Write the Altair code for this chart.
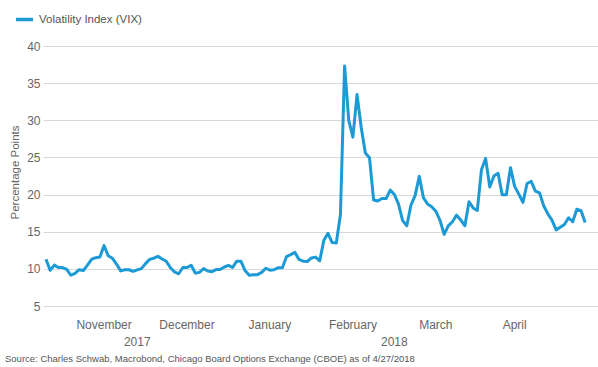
import altair as alt
import pandas as pd

series_name = "Volatility Index (VIX)"
start_date = "2017-10-26"
end_date = "2018-04-26"

# VIX daily close, weekday frequency (holidays carry prior close)
vix_values = [
    # Oct 2017
    11.30, 9.80, 10.50, 10.18,
    # Nov 2017
    10.18, 9.93, 9.14, 9.40, 9.89, 9.78, 10.50, 11.29, 11.50, 11.59, 13.13,
    11.76, 11.43, 10.65, 9.73, 9.88, 9.88, 9.67, 9.87, 10.03, 10.70, 11.28,
    # Dec 2017
    11.43, 11.68, 11.33, 11.02, 10.16, 9.58, 9.34, 10.18, 10.18, 10.49, 9.42,
    9.53, 10.03, 9.72, 9.62, 9.90, 9.90, 10.25, 10.47, 10.18, 11.04,
    # Jan 2018
    11.04, 9.77, 9.15, 9.22, 9.22, 9.52, 10.08, 9.82, 9.88, 10.16, 10.16,
    11.66, 11.91, 12.22, 11.27, 11.03, 10.99, 11.47, 11.58, 11.08, 13.84,
    14.79, 13.54,
    # Feb 2018
    13.47, 17.31, 37.32, 29.98, 27.73, 33.46, 29.06, 25.61, 24.97, 19.26,
    19.13, 19.46, 19.46, 20.60, 20.02, 18.72, 16.49, 15.80, 18.59, 19.85,
    # Mar 2018
    22.47, 19.59, 18.73, 18.36, 17.76, 16.54, 14.64, 15.78, 16.35, 17.23,
    16.59, 15.80, 19.02, 18.20, 17.86, 23.34, 24.87, 21.03, 22.50, 22.87,
    19.97, 19.97,
    # Apr 2018
    23.62, 21.10, 20.06, 18.94, 21.49, 21.77, 20.47, 20.24, 18.49, 17.41,
    16.56, 15.25, 15.60, 15.96, 16.88, 16.34, 18.02, 17.84, 16.24,
]

month_labels = ["November", "December", "January", "February", "March", "April"]
month_anchor = ["2017-11-15", "2017-12-13", "2018-01-10", "2018-02-07", "2018-03-07", "2018-04-03"]
year_labels = ["2017", "2018"]
year_anchor = ["2017-11-27", "2018-02-21"]
y_ticks = [5, 10, 15, 20, 25, 30, 35, 40]
source_text = "Source: Charles Schwab, Macrobond, Chicago Board Options Exchange (CBOE) as of 4/27/2018"

dates = pd.bdate_range(start_date, end_date)
pos = {d.strftime("%Y-%m-%d"): i for i, d in enumerate(dates)}

df = pd.DataFrame({
    "t": list(range(len(dates))),
    "date": dates.strftime("%Y-%m-%d"),
    "value": vix_values,
    "series": series_name,
})
months_df = pd.DataFrame({"t": [pos[d] for d in month_anchor], "label": month_labels})
years_df = pd.DataFrame({"t": [pos[d] for d in year_anchor], "label": year_labels})
source_df = pd.DataFrame({"label": [source_text]})

FONT = "Liberation Sans"
BLUE = "#1c9ad6"
GREY = "#666666"

xscale = alt.Scale(domain=[-0.72, 133.1], nice=False, zero=False)

line = alt.Chart(df).mark_line(strokeWidth=3, strokeJoin="round").encode(
    x=alt.X("t:Q", scale=xscale, axis=None),
    y=alt.Y(
        "value:Q",
        scale=alt.Scale(domain=[5, 40], nice=False, zero=False),
        axis=alt.Axis(
            values=y_ticks,
            title="Percentage Points",
            titleFont=FONT,
            titleFontSize=11.5,
            titleFontWeight="normal",
            titleColor=GREY,
            titleAngle=-90,
            titleX=-28,
            titleY=126,
            titleAlign="center",
            titleBaseline="middle",
            labelFont=FONT,
            labelFontSize=12,
            labelColor=GREY,
            labelPadding=3,
            domain=False,
            ticks=False,
            grid=True,
            gridColor="#d9d9d9",
            gridWidth=1,
        ),
    ),
    color=alt.Color(
        "series:N",
        scale=alt.Scale(domain=[series_name], range=[BLUE]),
        legend=alt.Legend(
            title=None,
            orient="none",
            legendX=-29,
            legendY=-37,
            symbolType="stroke",
            symbolSize=289,
            symbolStrokeWidth=3.5,
            labelFont=FONT,
            labelFontSize=11.5,
            labelColor="#555555",
            labelOffset=4,
            padding=0,
        ),
    ),
)

month_text = alt.Chart(months_df).mark_text(
    font=FONT, fontSize=12, color=GREY, align="center", baseline="middle"
).encode(x=alt.X("t:Q", scale=xscale), y=alt.value(279), text="label:N")

year_text = alt.Chart(years_df).mark_text(
    font=FONT, fontSize=12, color=GREY, align="center", baseline="middle"
).encode(x=alt.X("t:Q", scale=xscale), y=alt.value(296), text="label:N")

source = alt.Chart(source_df).mark_text(
    font=FONT, fontSize=9.5, color="#555555", align="left", baseline="middle"
).encode(x=alt.value(-38), y=alt.value(313), text="label:N")

chart = alt.layer(line, month_text, year_text, source).properties(
    width=555,
    height=260,
    autosize=alt.AutoSizeParams(type="none"),
    padding={"left": 43, "top": 46, "right": 0, "bottom": 61},
    background="white",
).configure_view(stroke=None)

chart.save("out.html", embed_options={"renderer": "svg", "actions": False})
